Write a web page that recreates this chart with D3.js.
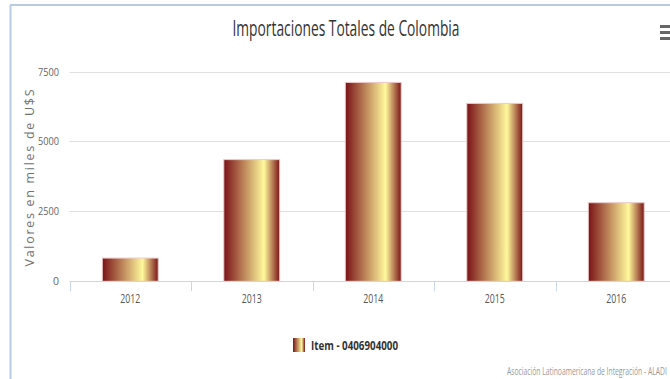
<!DOCTYPE html>
<html>

<head>
    <script src="https://d3js.org/d3.v7.min.js"></script>
    <meta charset="utf-8">
    <style>
        body { margin: 0; background: #fff; overflow: hidden; }
        text { font-family: "Open Sans", "DejaVu Sans", sans-serif; }
    </style>
</head>

<body>
    <div id="my_dataviz"></div>
    <script>
        // data
        var years = ["2012", "2013", "2014", "2015", "2016"];
        var values = [830, 4350, 7110, 6360, 2810];
        var yTicks = [0, 2500, 5000, 7500];
        var seriesName = "Item - 0406904000";

        var width = 670;
        var height = 379;

        var svg = d3.select("#my_dataviz")
            .append("svg")
            .attr("width", width)
            .attr("height", height);

        // gradient used by the bars and the legend symbol
        var defs = svg.append("defs");
        var grad = defs.append("linearGradient")
            .attr("id", "barGrad")
            .attr("x1", "0%").attr("x2", "100%")
            .attr("y1", "0%").attr("y2", "0%");
        grad.append("stop").attr("offset", "0%").attr("stop-color", "#7a1217");
        grad.append("stop").attr("offset", "72%").attr("stop-color", "#fff99c");
        grad.append("stop").attr("offset", "100%").attr("stop-color", "#7a1418");

        // frame (chart is cropped on the right)
        svg.append("line")
            .attr("x1", 10.5).attr("x2", 10.5)
            .attr("y1", 5).attr("y2", height)
            .style("stroke", "#b9cbe3").style("stroke-width", 2);
        svg.append("line")
            .attr("x1", 10).attr("x2", width)
            .attr("y1", 5).attr("y2", 5)
            .style("stroke", "#b9cbe3").style("stroke-width", 2);

        var plotLeft = 69.5, plotRight = 677;

        var x = d3.scaleBand()
            .domain(years)
            .range([plotLeft, plotRight])
            .paddingInner(0.54)
            .paddingOuter(0.27);

        var y = d3.scaleLinear()
            .domain([0, 7500])
            .range([281.3, 71.5]);

        // gridlines
        svg.append("g")
            .selectAll("line")
            .data(yTicks.slice(1))
            .enter()
            .append("line")
            .attr("x1", plotLeft)
            .attr("x2", plotRight)
            .attr("y1", d => Math.round(y(d)) + 0.5)
            .attr("y2", d => Math.round(y(d)) + 0.5)
            .style("stroke", "#e0e0e0")
            .style("stroke-width", 1);

        // y labels
        svg.append("g")
            .selectAll("text")
            .data(yTicks)
            .enter()
            .append("text")
            .attr("x", 59)
            .attr("y", d => y(d) + 4)
            .attr("text-anchor", "end")
            .attr("textLength", d => d === 0 ? 6 : 21)
            .attr("lengthAdjust", "spacingAndGlyphs")
            .style("font-size", "11px")
            .style("fill", "#666")
            .text(d => d);

        // y axis title
        svg.append("text")
            .attr("transform", "translate(34," + 178 + ") rotate(-90)")
            .attr("text-anchor", "middle")
            .attr("textLength", 177)
            .attr("lengthAdjust", "spacing")
            .style("font-size", "12.5px")
            .style("fill", "#707070")
            .text("Valores en miles de U$S");

        // bars
        svg.append("g")
            .selectAll("rect")
            .data(values)
            .enter()
            .append("rect")
            .attr("x", (d, i) => x(years[i]))
            .attr("width", x.bandwidth())
            .attr("y", d => y(d))
            .attr("height", d => y(0) - y(d))
            .attr("fill", "url(#barGrad)")
            .style("stroke", "#ecc9c9")
            .style("stroke-width", 1);

        // x axis line and ticks
        svg.append("line")
            .attr("x1", plotLeft).attr("x2", plotRight)
            .attr("y1", 281.5).attr("y2", 281.5)
            .style("stroke", "#ccd6eb");
        svg.append("g")
            .selectAll("line")
            .data(years)
            .enter()
            .append("line")
            .attr("x1", d => Math.round(x(d) - x.step() * x.paddingOuter()) + 0.5)
            .attr("x2", d => Math.round(x(d) - x.step() * x.paddingOuter()) + 0.5)
            .attr("y1", 281)
            .attr("y2", 291)
            .style("stroke", "#ccd6eb");

        svg.append("g")
            .selectAll("text")
            .data(years)
            .enter()
            .append("text")
            .attr("x", d => x(d) + x.bandwidth() / 2)
            .attr("y", 303)
            .attr("text-anchor", "middle")
            .attr("textLength", 20)
            .attr("lengthAdjust", "spacingAndGlyphs")
            .style("font-size", "12.5px")
            .style("fill", "#555")
            .text(d => d);

        // title
        svg.append("text")
            .attr("x", 346)
            .attr("y", 36)
            .attr("text-anchor", "middle")
            .attr("textLength", 227)
            .attr("lengthAdjust", "spacingAndGlyphs")
            .style("font-size", "22px")
            .style("fill", "#333")
            .text("Importaciones Totales de Colombia");

        // menu icon
        svg.append("g")
            .selectAll("rect")
            .data([0, 1, 2])
            .enter()
            .append("rect")
            .attr("x", 660)
            .attr("y", d => 25 + d * 6)
            .attr("width", 12)
            .attr("height", 3)
            .attr("fill", "#666");

        // legend
        svg.append("rect")
            .attr("x", 293).attr("y", 338)
            .attr("width", 12).attr("height", 14)
            .attr("fill", "url(#barGrad)");
        svg.append("text")
            .attr("x", 311)
            .attr("y", 350)
            .attr("textLength", 87)
            .attr("lengthAdjust", "spacingAndGlyphs")
            .style("font-size", "13px")
            .style("font-weight", "bold")
            .style("fill", "#333")
            .text(seriesName);

        // credits (narrowed with a transform so its box stays inside)
        var credits = svg.append("text")
            .attr("transform", "translate(507,375) scale(0.7,1)")
            .style("font-size", "10px")
            .style("fill", "#999")
            .text("Asociación Latinoamericana de Integración - ALADI");
        var cw = credits.node().getComputedTextLength() * 0.7;
        if (cw > 160) {
            credits.attr("transform", "translate(507,375) scale(" + (0.7 * 160 / cw) + ",1)");
        }
    </script>
</body>

</html>
